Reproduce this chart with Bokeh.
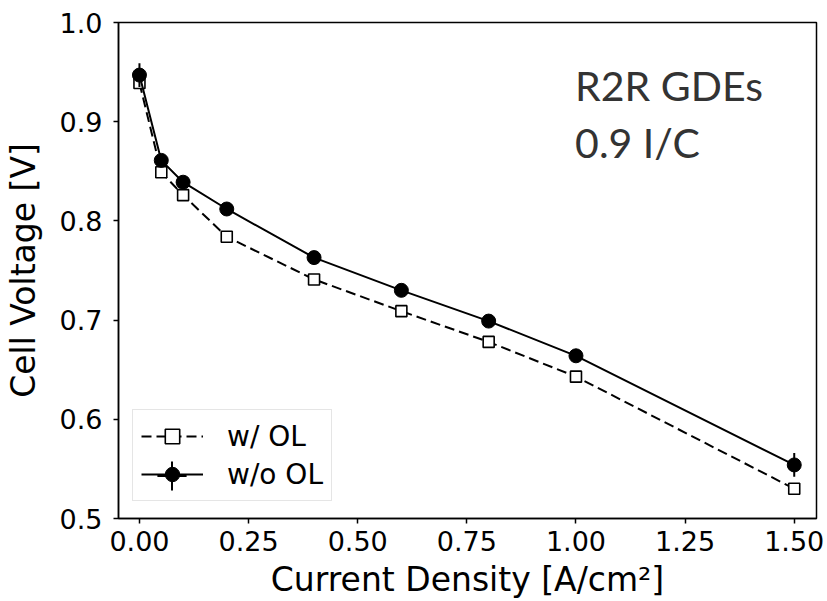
from bokeh.plotting import figure
from bokeh.models import (Range1d, FixedTicker, PrintfTickFormatter, Legend, LegendItem,
                          ColumnDataSource, Label)
from bokeh.embed import file_html
from bokeh.resources import INLINE

# ---- data ----
current = [0.0, 0.05, 0.1, 0.2, 0.4, 0.6, 0.8, 1.0, 1.5]
v_with_ol = [0.939, 0.849, 0.826, 0.784, 0.741, 0.709, 0.678, 0.643, 0.530]
v_without_ol = [0.947, 0.861, 0.839, 0.812, 0.763, 0.730, 0.699, 0.664, 0.554]
err_without_ol = [0.012, 0.004, 0.004, 0.004, 0.004, 0.004, 0.004, 0.005, 0.012]
x_ticks = [0.0, 0.25, 0.5, 0.75, 1.0, 1.25, 1.5]
y_ticks = [0.5, 0.6, 0.7, 0.8, 0.9, 1.0]
label_with = "w/ OL"
label_without = "w/o OL"
annotation_lines = ["R2R GDEs", "0.9 I/C"]

src_w = ColumnDataSource(dict(x=current, y=v_with_ol))
src_wo = ColumnDataSource(dict(
    x=current, y=v_without_ol,
    lo=[v - e for v, e in zip(v_without_ol, err_without_ol)],
    hi=[v + e for v, e in zip(v_without_ol, err_without_ol)],
))

p = figure(width=827, height=601, output_backend="svg", toolbar_location=None,
           x_range=Range1d(-0.048, 1.551), y_range=Range1d(0.5, 1.0),
           min_border_left=116, min_border_right=11, min_border_top=22,
           min_border_bottom=81)
p.background_fill_color = "white"
p.border_fill_color = "white"
p.grid.visible = False
p.outline_line_color = "black"
p.outline_line_width = 1.5
p.outline_line_alpha = 1.0

tick_font = "DejaVu Sans"
for ax in (p.xaxis[0], p.yaxis[0]):
    ax.axis_line_width = 1.5
    ax.axis_line_color = "black"
    ax.major_tick_line_width = 1.5
    ax.major_tick_out = 5
    ax.major_tick_in = 0
    ax.minor_tick_line_color = None
    ax.major_label_text_font = tick_font
    ax.major_label_text_font_size = "27px"
    ax.major_label_text_color = "black"
    ax.axis_label_text_font = tick_font
    ax.axis_label_text_font_size = "33px"
    ax.axis_label_text_font_style = "normal"
    ax.axis_label_text_color = "black"

p.xaxis.ticker = FixedTicker(ticks=x_ticks)
p.yaxis.ticker = FixedTicker(ticks=y_ticks)
p.xaxis.formatter = PrintfTickFormatter(format="%.2f")
p.yaxis.formatter = PrintfTickFormatter(format="%.1f")
p.xaxis.axis_label = "Current Density [A/cm²]"
p.yaxis.axis_label = "Cell Voltage [V]"
p.xaxis.major_label_standoff = 7
p.yaxis.major_label_standoff = 11
p.xaxis.axis_label_standoff = 6
p.yaxis.axis_label_standoff = 14

# w/ OL series
l1 = p.line("x", "y", source=src_w, line_color="black", line_width=2, line_dash="10 5")
m1 = p.scatter("x", "y", source=src_w, marker="square", size=11, fill_color="white",
               line_color="black", line_width=1.6)

# w/o OL series
l2 = p.line("x", "y", source=src_wo, line_color="black", line_width=2)
eb = p.segment(x0="x", y0="lo", x1="x", y1="hi", source=src_wo, line_color="black",
               line_width=2)
m2 = p.scatter("x", "y", source=src_wo, marker="circle", size=14, fill_color="black",
               line_color="black")
# legend-only representation of the error bar (hidden on the plot itself);
# the horizontal arm of the cross coincides with the legend's line
ebm = p.scatter("x", "y", source=src_wo, marker="cross", size=29,
                line_color="black", line_width=2, fill_color=None)
ebm.visible = False

legend = Legend(items=[
    LegendItem(label=label_with, renderers=[l1, m1]),
    LegendItem(label=label_without, renderers=[l2, m2]),
], location=(14, 17))
legend.click_policy = "none"
legend.label_text_font = tick_font
legend.label_text_font_size = "28px"
legend.label_text_color = "black"
legend.glyph_width = 62
legend.glyph_height = 36
legend.label_height = 36
legend.label_standoff = 24
legend.spacing = 2
legend.padding = 8
legend.margin = 0
legend.border_line_color = "#cccccc"
legend.border_line_width = 1
legend.background_fill_color = "white"
legend.background_fill_alpha = 0.85
p.add_layout(legend)

# overlay legend that only draws the vertical error-bar glyph of "w/o OL"
legend_eb = Legend(items=[LegendItem(label=" ", renderers=[ebm])], location=(16.5, 6.5))
legend_eb.click_policy = "none"
legend_eb.glyph_width = 73
legend_eb.glyph_height = 73
legend_eb.label_height = 73
legend_eb.label_standoff = 0
legend_eb.padding = 0
legend_eb.margin = 0
legend_eb.spacing = 0
legend_eb.label_text_font_size = "1px"
legend_eb.border_line_color = None
legend_eb.background_fill_alpha = 0.0
p.add_layout(legend_eb)

# annotation text
ann_y = [0.936, 0.879]
for txt, yy in zip(annotation_lines, ann_y):
    p.add_layout(Label(x=0.998, y=yy, text=txt, text_font="Lato", text_font_size="41px",
                       text_color="#333333", text_baseline="alphabetic"))

open("out.html", "w").write(file_html(p, INLINE))
